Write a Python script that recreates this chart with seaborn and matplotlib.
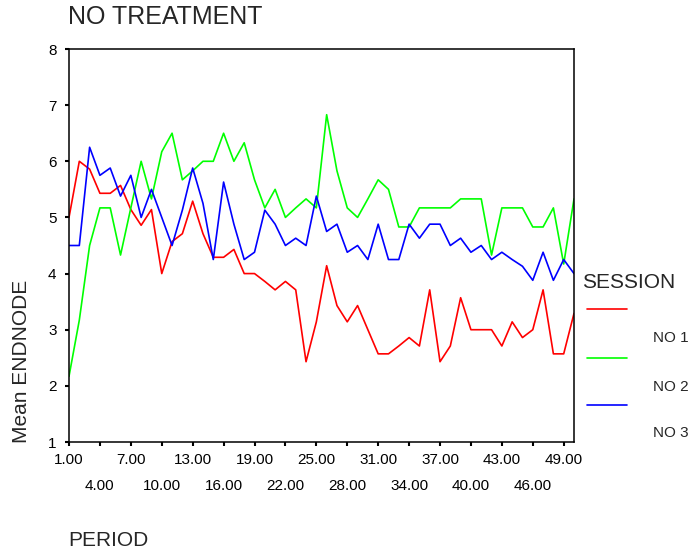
import pandas as pd
import numpy as np
from matplotlib import pyplot as plt
from matplotlib.lines import Line2D
import seaborn as sns

periods = list(range(1, 51))

no1 = [5.00, 6.00, 5.86, 5.43, 5.43, 5.57, 5.14, 4.86, 5.14, 4.00,
       4.57, 4.71, 5.29, 4.71, 4.29, 4.29, 4.43, 4.00, 4.00, 3.86,
       3.71, 3.86, 3.71, 2.43, 3.14, 4.14, 3.43, 3.14, 3.43, 3.00,
       2.57, 2.57, 2.71, 2.86, 2.71, 3.71, 2.43, 2.71, 3.57, 3.00,
       3.00, 3.00, 2.71, 3.14, 2.86, 3.00, 3.71, 2.57, 2.57, 3.29]

no2 = [2.17, 3.17, 4.50, 5.17, 5.17, 4.33, 5.17, 6.00, 5.33, 6.17,
       6.50, 5.67, 5.83, 6.00, 6.00, 6.50, 6.00, 6.33, 5.67, 5.17,
       5.50, 5.00, 5.17, 5.33, 5.17, 6.83, 5.83, 5.17, 5.00, 5.33,
       5.67, 5.50, 4.83, 4.83, 5.17, 5.17, 5.17, 5.17, 5.33, 5.33,
       5.33, 4.33, 5.17, 5.17, 5.17, 4.83, 4.83, 5.17, 4.17, 5.33]

no3 = [4.50, 4.50, 6.25, 5.75, 5.88, 5.38, 5.75, 5.00, 5.50, 5.00,
       4.50, 5.13, 5.88, 5.25, 4.25, 5.63, 4.88, 4.25, 4.38, 5.13,
       4.88, 4.50, 4.63, 4.50, 5.38, 4.75, 4.88, 4.38, 4.50, 4.25,
       4.88, 4.25, 4.25, 4.88, 4.63, 4.88, 4.88, 4.50, 4.63, 4.38,
       4.50, 4.25, 4.38, 4.25, 4.13, 3.88, 4.38, 3.88, 4.25, 4.00]

sessions = ["NO 1", "NO 2", "NO 3"]
colors = ["#FF0000", "#00FF00", "#0000FF"]

df = pd.DataFrame({
    "PERIOD": periods * 3,
    "ENDNODE": no1 + no2 + no3,
    "SESSION": [s for s in sessions for _ in periods],
})

sns.set_style("white")
plt.rcParams["font.family"] = ["Liberation Sans", "DejaVu Sans"]

fig = plt.figure(figsize=(6.95, 5.54), dpi=100)
ax = fig.add_axes([69 / 695, 1 - 442 / 554, (574 - 69) / 695, (442 - 49) / 554])

sns.lineplot(data=df, x="PERIOD", y="ENDNODE", hue="SESSION", palette=colors,
             linewidth=1.2, legend=False, ax=ax)

ax.set_xlim(1, 50)
ax.set_ylim(1, 8)
ax.set_yticks(range(1, 9))
ax.set_yticklabels([str(v) for v in range(1, 9)])

major = list(range(1, 50, 6))
minor = list(range(4, 50, 6))
ax.set_xticks(major)
ax.set_xticklabels([f"{v:.2f}" for v in major])
ax.set_xticks(minor, minor=True)
ax.set_xticklabels([f"{v:.2f}" for v in minor], minor=True)

ax.tick_params(axis="both", which="both", direction="out", length=3, width=1.5,
               color="black", labelsize=11, labelcolor="black")
ax.tick_params(axis="x", which="major", pad=5)
ax.tick_params(axis="x", which="minor", pad=24)
ax.tick_params(axis="y", pad=6)
ax.tick_params(bottom=True, left=True, which="both")

for sp in ax.spines.values():
    sp.set_color("black")
    sp.set_linewidth(1.1)

ax.set_xlabel("")
ax.set_ylabel("")

fig.text(68 / 695, 1 - 24 / 554, "NO TREATMENT", fontsize=18, va="baseline", ha="left")
fig.text(22 / 695, 1 - 361 / 554, "Mean ENDNODE", fontsize=15, rotation=90,
         va="center", ha="center")
fig.text(68 / 695, 1 - 540 / 554, "PERIOD", fontsize=15, va="center", ha="left")

# legend drawn by hand, SPSS style
fig.text(582 / 695, 1 - 288 / 554, "SESSION", fontsize=15, va="baseline", ha="left")
line_y = [309, 358, 405]
label_y = [338, 387, 433]
for name, col, ly, ty in zip(sessions, colors, line_y, label_y):
    fig.add_artist(Line2D([587 / 695, 627 / 695], [1 - ly / 554, 1 - ly / 554],
                          color=col, linewidth=1.2, transform=fig.transFigure))
    fig.text(653 / 695, 1 - ty / 554, name, fontsize=11, va="center", ha="left")

fig.savefig("out.png", dpi=100)
